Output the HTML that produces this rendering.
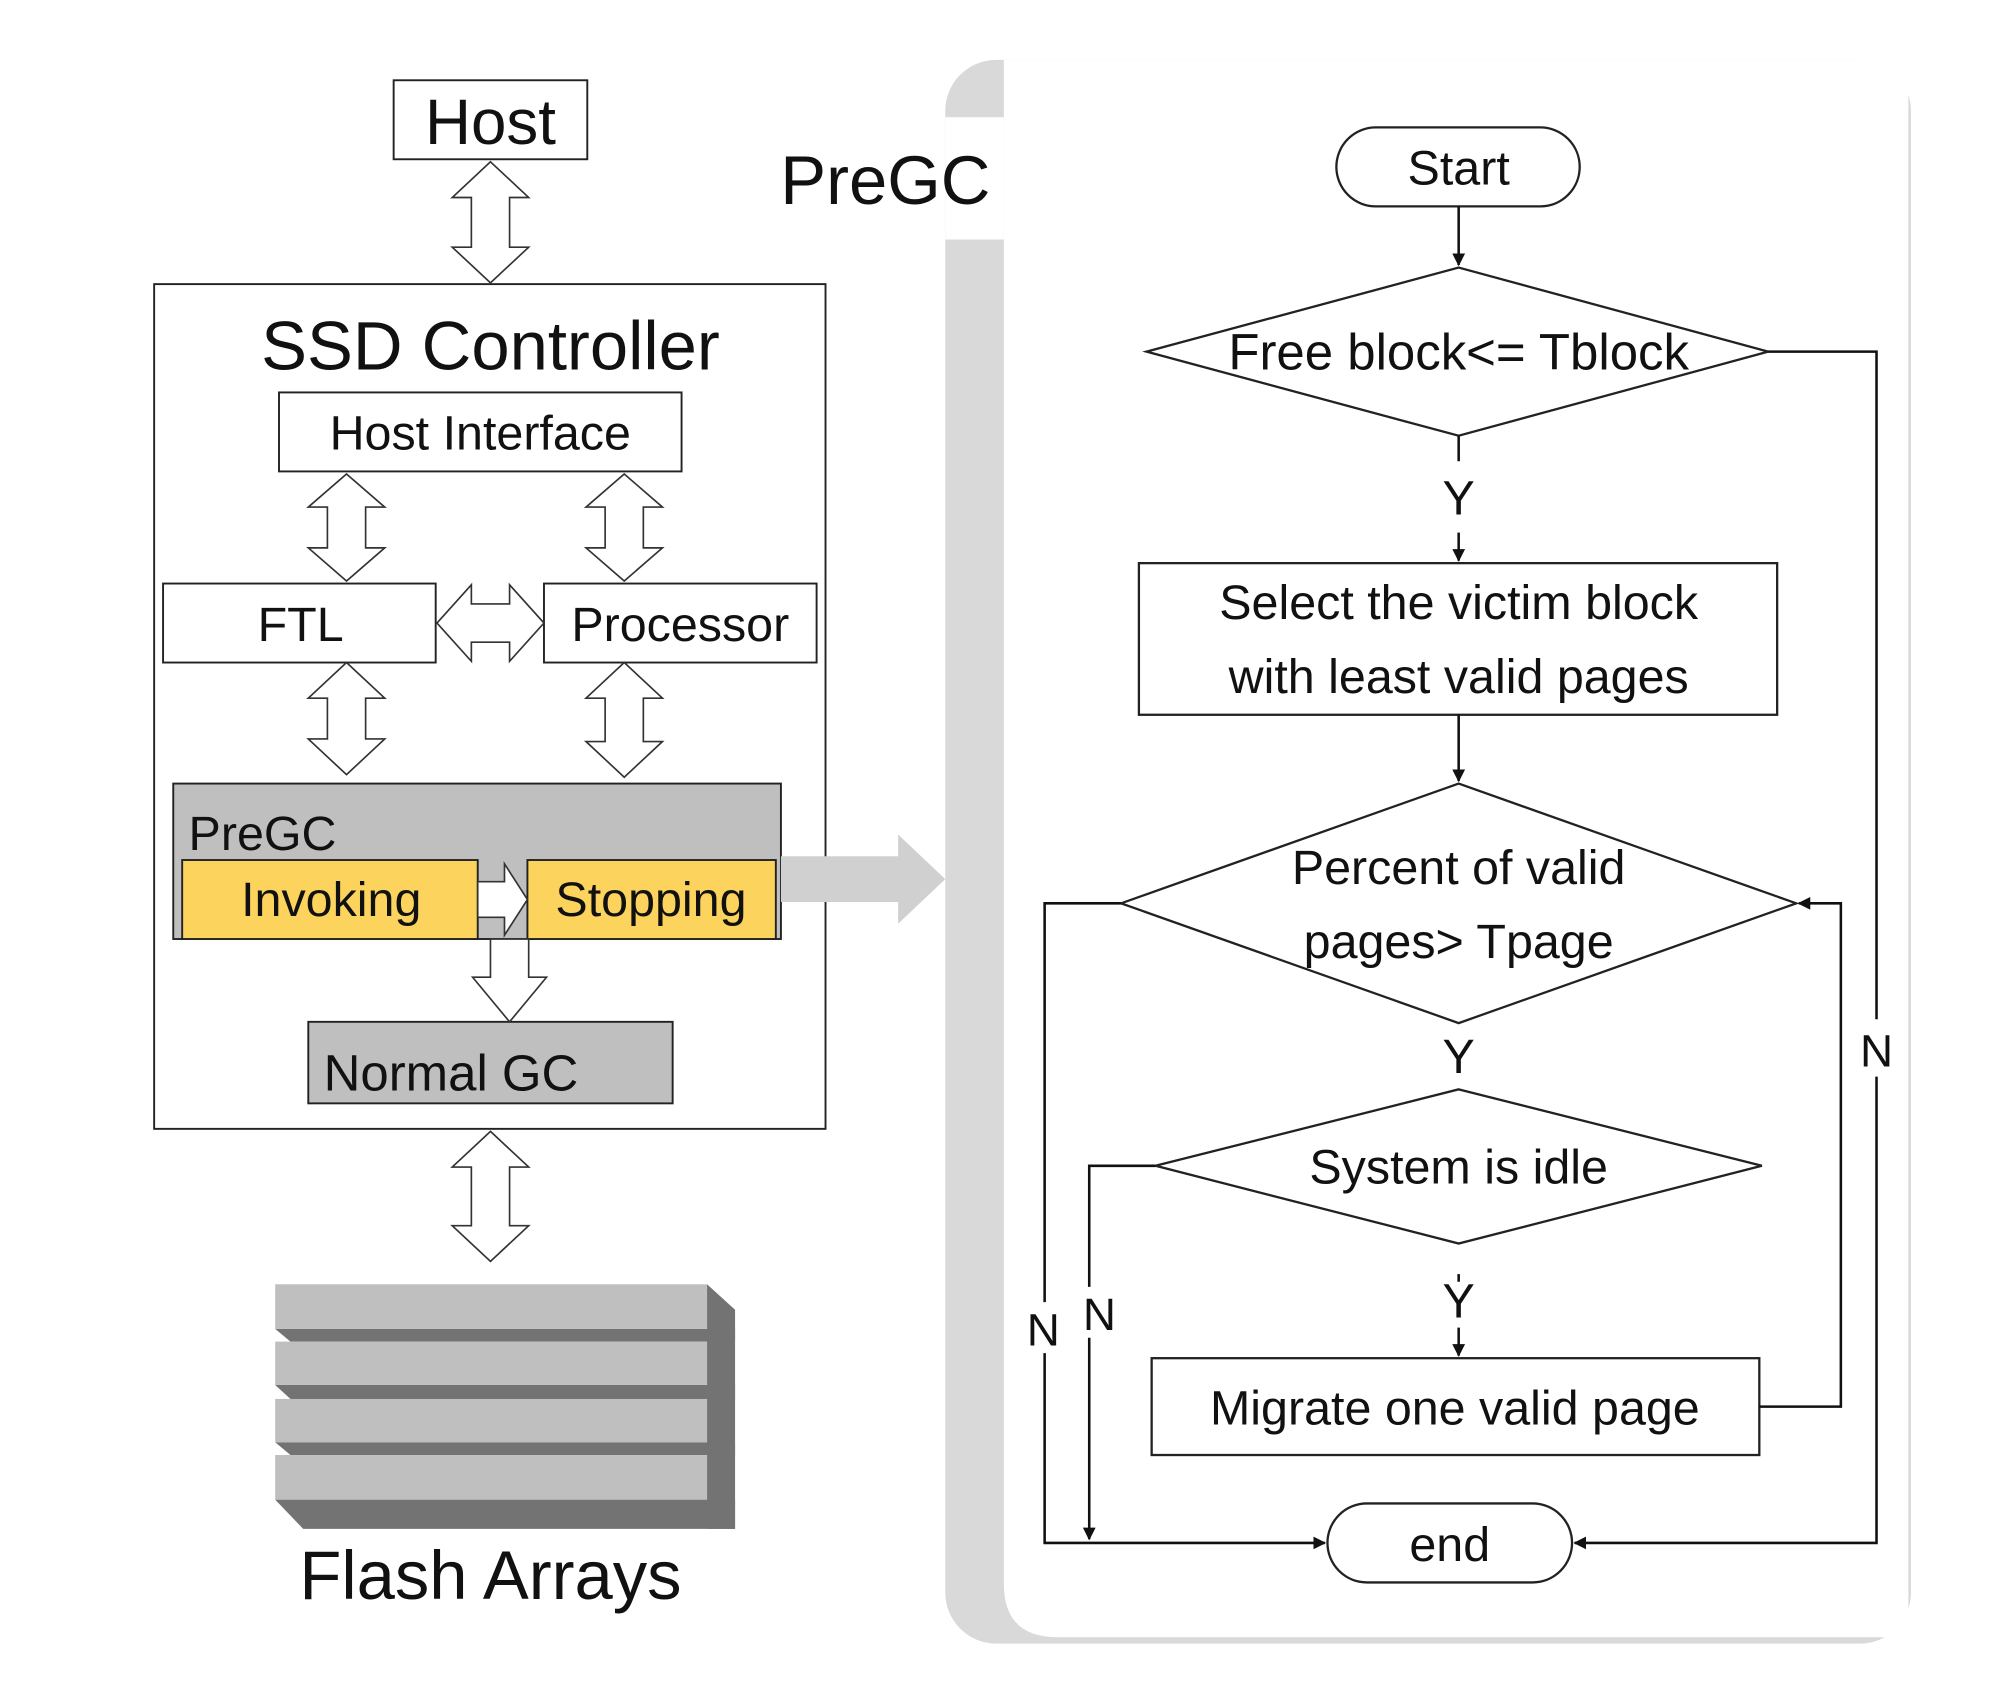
<!DOCTYPE html>
<html><head><meta charset="utf-8"><style>
html,body{margin:0;padding:0;background:#fff}
svg{display:block}
text{font-family:"Liberation Sans",sans-serif;fill:#111}
</style></head><body>
<svg width="1995" height="1692" viewBox="0 0 1566 1328" preserveAspectRatio="none" xmlns="http://www.w3.org/2000/svg">
<defs>
<marker id="ah" markerWidth="10" markerHeight="10" refX="9" refY="5" orient="auto" markerUnits="userSpaceOnUse"><path d="M0,0 L10,5 L0,10 Z" fill="#111"/></marker>
</defs>
<rect width="1566" height="1328" fill="#fff"/>
<!-- right panel -->
<rect x="742" y="47" width="758" height="1243" rx="40" fill="#d9d9d9"/>
<path d="M788,47 H1470 Q1498,47 1498,75 V1285 H830 Q788,1285 788,1243 Z" fill="#fff"/>
<rect x="742" y="92" width="46" height="96" fill="#fff"/>
<text x="695" y="160" font-size="54" text-anchor="middle">PreGC</text>

<!-- left side -->
<g stroke="#222" stroke-width="1.5" fill="#fff">
<rect x="309" y="63" width="152" height="62"/>
<rect x="121" y="223" width="527" height="663"/>
<rect x="219" y="308" width="316" height="62"/>
<rect x="128" y="458" width="214" height="62"/>
<rect x="427" y="458" width="214" height="62"/>
<rect x="136" y="615" width="477" height="122" fill="#bfbfbf"/>
<rect x="143" y="675" width="232" height="62" fill="#fcd35c"/>
<rect x="414" y="675" width="195" height="62" fill="#fcd35c"/>
<rect x="242" y="802" width="286" height="64" fill="#bfbfbf"/>
</g>
<g stroke="#333" stroke-width="1.3" fill="#fff">
<path d="M385,127 L415,155 L400,155 L400,194 L415,194 L385,222 L355,194 L370,194 L370,155 L355,155 Z"/>
<path d="M272,372 L302,398 L287,398 L287,430 L302,430 L272,456 L242,430 L257,430 L257,398 L242,398 Z"/>
<path d="M490,372 L520,398 L505,398 L505,430 L520,430 L490,456 L460,430 L475,430 L475,398 L460,398 Z"/>
<path d="M272,520 L302,548 L287,548 L287,580 L302,580 L272,608 L242,580 L257,580 L257,548 L242,548 Z"/>
<path d="M490,520 L520,548 L505,548 L505,582 L520,582 L490,610 L460,582 L475,582 L475,548 L460,548 Z"/>
<path d="M385,888 L415,916 L400,916 L400,962 L415,962 L385,990 L355,962 L370,962 L370,916 L355,916 Z"/>
<path d="M343,489 L370,459 L370,474 L400,474 L400,459 L427,489 L400,519 L400,504 L370,504 L370,519 Z"/>
<path d="M385,737 L385,767 L371,767 L400,802 L429,767 L415,767 L415,737 Z"/>
<path d="M375,692 L396,692 L396,678 L414,706 L396,734 L396,720 L375,720 Z"/>
</g>
<path d="M613,672 L705,672 L705,655 L742,690 L705,725 L705,708 L613,708 Z" fill="#d0d0d0"/>

<text x="385" y="113" font-size="50" text-anchor="middle">Host</text>
<text x="385" y="290" font-size="54" text-anchor="middle">SSD Controller</text>
<text x="377" y="353" font-size="38" text-anchor="middle">Host Interface</text>
<text x="236" y="503" font-size="38" text-anchor="middle">FTL</text>
<text x="534" y="503" font-size="38" text-anchor="middle">Processor</text>
<text x="148" y="667" font-size="38">PreGC</text>
<text x="260" y="719" font-size="38" text-anchor="middle">Invoking</text>
<text x="511" y="719" font-size="38" text-anchor="middle">Stopping</text>
<text x="254" y="856" font-size="40">Normal GC</text>

<!-- flash arrays -->
<g fill="#737373">
<path d="M555,1008 L577,1028 L577,1200 L555,1200 Z"/>
<path d="M216,1043 L577,1043 L577,1053 L228,1053 Z"/>
<path d="M216,1087 L577,1087 L577,1098 L228,1098 Z"/>
<path d="M216,1132 L577,1132 L577,1142 L228,1142 Z"/>
<path d="M216,1177 L577,1177 L577,1200 L238,1200 Z"/>
</g>
<g fill="#bfbfbf">
<rect x="216" y="1008" width="339" height="35"/>
<rect x="216" y="1053" width="339" height="34"/>
<rect x="216" y="1098" width="339" height="34"/>
<rect x="216" y="1142" width="339" height="35"/>
</g>
<text x="385" y="1255" font-size="54" text-anchor="middle">Flash Arrays</text>

<!-- flowchart -->
<g stroke="#222" stroke-width="1.8" fill="#fff">
<rect x="1049" y="100" width="191" height="62" rx="31"/>
<path d="M1145,210 L1388,276 L1145,342 L900,276 Z"/>
<rect x="894" y="442" width="501" height="119"/>
<path d="M1145,615 L1410,709 L1145,803 L880,709 Z"/>
<path d="M1145,855 L1383,915 L1145,976 L907,915 Z"/>
<rect x="904" y="1066" width="477" height="76"/>
<rect x="1042" y="1180" width="192" height="62" rx="31"/>
</g>
<g stroke="#111" stroke-width="2" fill="none">
<path d="M1145,162 V208" marker-end="url(#ah)"/>
<path d="M1145,342 V362"/>
<path d="M1145,418 V440" marker-end="url(#ah)"/>
<path d="M1145,561 V613" marker-end="url(#ah)"/>
<path d="M1145,1000 V1006"/>
<path d="M1145,1042 V1064" marker-end="url(#ah)"/>
<path d="M1381,1104 H1445 V709 H1412" marker-end="url(#ah)"/>
<path d="M880,709 H820 V1022"/>
<path d="M820,1062 V1211 H1040" marker-end="url(#ah)"/>
<path d="M907,915 H855 V1010"/>
<path d="M855,1050 V1208" marker-end="url(#ah)"/>
<path d="M1388,276 H1473 V800"/>
<path d="M1473,845 V1211 H1236" marker-end="url(#ah)"/>
</g>
<text x="1145" y="145" font-size="38" text-anchor="middle">Start</text>
<text x="1145" y="290" font-size="40" text-anchor="middle">Free block&lt;= Tblock</text>
<text x="1145" y="404" font-size="38" text-anchor="middle">Y</text>
<text x="1145" y="486" font-size="38" text-anchor="middle">Select the victim block</text>
<text x="1145" y="544" font-size="38" text-anchor="middle">with least valid pages</text>
<text x="1145" y="694" font-size="38" text-anchor="middle">Percent of valid</text>
<text x="1145" y="752" font-size="38" text-anchor="middle">pages&gt; Tpage</text>
<text x="1145" y="842" font-size="38" text-anchor="middle">Y</text>
<text x="1145" y="929" font-size="38" text-anchor="middle">System is idle</text>
<text x="1145" y="1034" font-size="38" text-anchor="middle">Y</text>
<text x="1142" y="1118" font-size="38" text-anchor="middle">Migrate one valid page</text>
<text x="1138" y="1225" font-size="38" text-anchor="middle">end</text>
<text x="819" y="1056" font-size="36" text-anchor="middle">N</text>
<text x="863" y="1044" font-size="36" text-anchor="middle">N</text>
<text x="1473" y="837" font-size="36" text-anchor="middle">N</text>
</svg>
</body></html>
